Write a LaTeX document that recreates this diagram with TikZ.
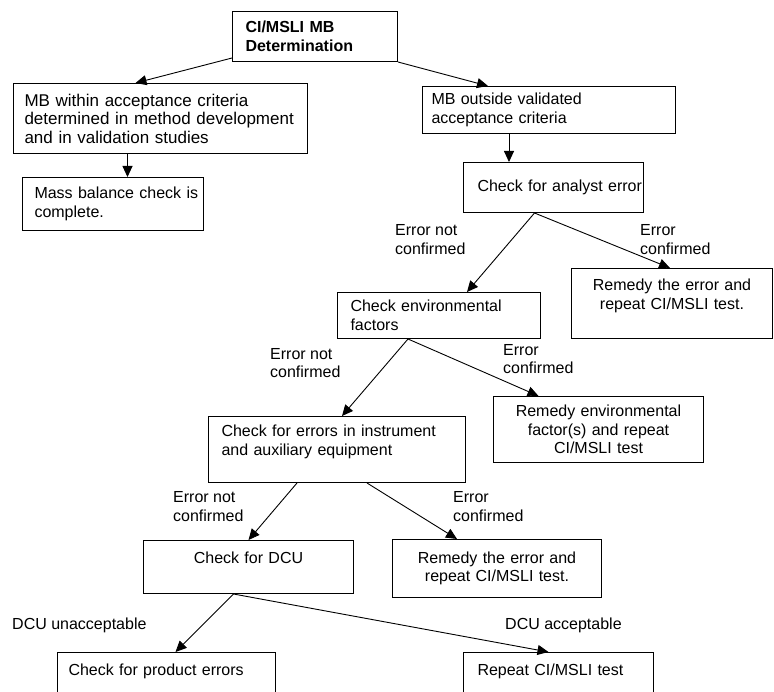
\documentclass[tikz,border=0pt]{standalone}
\usepackage{fontspec}
\setmainfont{Liberation Sans}
\usetikzlibrary{arrows.meta,calc}

\newcommand{\fsz}{\fontsize{16}{18.5}\selectfont}

\begin{document}
\begin{tikzpicture}
        [x=1pt, y=-1pt,
          box/.style={
            draw,
            line width=1pt,
            anchor=north west,
            inner xsep=13pt,
            inner ysep=0pt,
            font=\fsz,
            align=left},
          mid/.style={
            box,
            align=center},
          lbl/.style={
            anchor=base west,
            inner sep=0pt,
            font=\fsz,
            align=left},
          flow/.style={
            -{Triangle[length=11pt,width=10pt]},
            line width=0.9pt}]
        \useasboundingbox (0,0) rectangle (774,692);
        \clip (0,0) rectangle (774,692);

        % boxes
        \node[box, font=\fsz\bfseries, text width=139pt, minimum height=50pt] (det) at (232,11) {CI/MSLI MB\\Determination};
        \node[box, font=\fontsize{17}{18.5}\selectfont, inner xsep=11pt, text width=272pt, minimum height=70pt] (within) at (13,83) {\mbox{MB within acceptance criteria}\\\mbox{determined in method development}\\\mbox{and in validation studies}};
        \node[box, inner xsep=12pt, text width=157pt, minimum height=53pt] (massbal) at (22,177) {\mbox{Mass balance check is}\\complete.};
        \node[box, inner xsep=9pt, text width=235pt, minimum height=47pt] (outside) at (422,86) {MB outside validated\\acceptance criteria};
        \node[box, inner xsep=14pt, text width=152pt, minimum height=50pt] (analyst) at (463,162) {\mbox{Check for analyst error}};
        \node[mid, text width=175pt, minimum height=70pt] (remedya) at (571,268) {Remedy the error and\\repeat CI/MSLI test.\\\mbox{}};
        \node[box, text width=177pt, minimum height=46pt] (environ) at (337,292) {Check environmental\\factors};
        \node[box, text width=231pt, minimum height=66pt] (instrum) at (208,416) {Check for errors in instrument\\and auxiliary equipment\\\mbox{}};
        \node[mid, text width=184pt, minimum height=66pt] (remedyenv) at (493,396) {Remedy environmental\\factor(s) and repeat\\CI/MSLI test};
        \node[mid, text width=184pt, minimum height=53pt] (dcu) at (143,540) {Check for DCU\\\mbox{}};
        \node[mid, text width=183pt, minimum height=58pt] (remedyb) at (392,539) {Remedy the error and\\repeat CI/MSLI test.};
        \node[box, inner xsep=11pt, text width=196pt, minimum height=53pt] (product) at (57,652) {Check for product errors\\\mbox{}};
        \node[box, inner xsep=14pt, text width=162pt, minimum height=53pt] (retest) at (463,652) {Repeat CI/MSLI test\\\mbox{}};

        % branch labels (base = last line)
        \node[lbl] (nca) at (395,254.5) {Error not\\confirmed};
        \node[lbl] (ca) at (640,254.5) {Error\\confirmed};
        \node[lbl] (ncb) at (270,378) {Error not\\confirmed};
        \node[lbl] (cb) at (503,374) {Error\\confirmed};
        \node[lbl] (ncc) at (173,521) {Error not\\confirmed};
        \node[lbl] (cc) at (453,521) {Error\\confirmed};
        \node[lbl] (dcuno) at (12,629) {DCU unacceptable};
        \node[lbl] (dcuyes) at (505,629) {DCU acceptable};

        % arrows
        \draw[flow] ([yshift=4pt]det.south west) -- ([xshift=-25pt]within.north);
        \draw[flow] (det.south east) -- ([xshift=-61pt]outside.north);
        \draw[flow] ([xshift=-33pt]within.south) -- ([xshift=-33pt]within.south |- massbal.north);
        \draw[flow] ([xshift=-40pt]outside.south) -- ([xshift=-40pt]outside.south |- analyst.north);
        \draw[flow] ([xshift=-19pt]analyst.south) -- ([xshift=28pt]environ.north);
        \draw[flow] ([xshift=-19pt]analyst.south) -- ([xshift=-2pt]remedya.north);
        \draw[flow] ([xshift=-31pt]environ.south) -- ([xshift=5pt]instrum.north);
        \draw[flow] ([xshift=-31pt]environ.south) -- ([xshift=-60pt]remedyenv.north);
        \draw[flow] ([xshift=-40pt]instrum.south) -- (dcu.north);
        \draw[flow] ([xshift=30pt]instrum.south) -- ([xshift=-40pt]remedyb.north);
        \draw[flow] ([xshift=-15pt]dcu.south) -- ([xshift=9pt]product.north);
        \draw[flow] ([xshift=-15pt]dcu.south) -- ([xshift=-10pt]retest.north);
\end{tikzpicture}
\end{document}
